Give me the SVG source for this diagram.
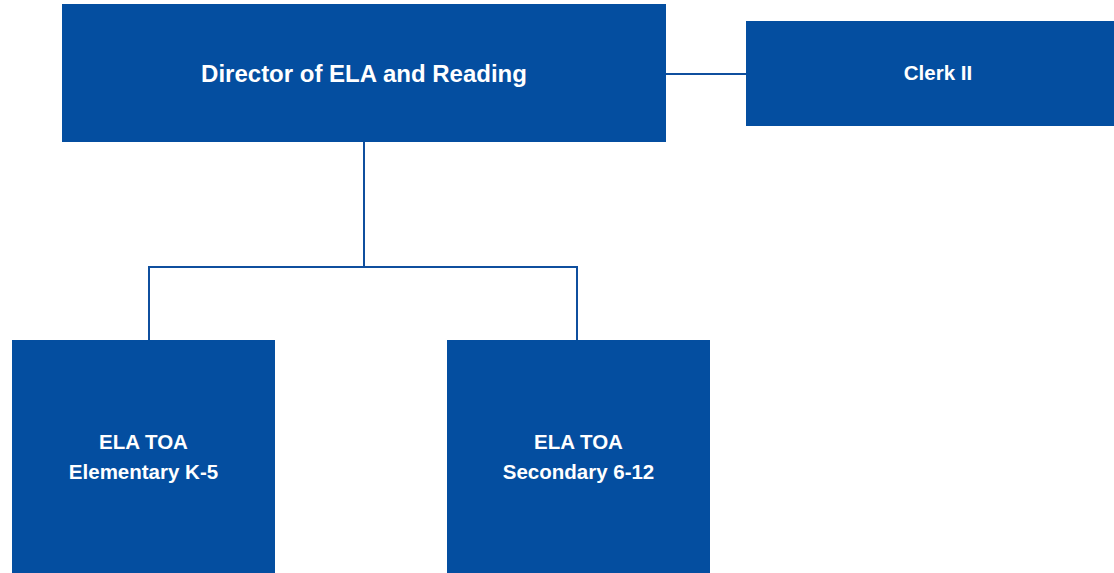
<svg xmlns="http://www.w3.org/2000/svg" width="1114" height="573" viewBox="0 0 1114 573">
<style>
.box{fill:#044EA0}
.t{fill:#fff;font-family:"Liberation Sans",Arial,sans-serif;font-weight:bold;text-anchor:middle}
.c{fill:none;stroke:#0F4F9E;stroke-width:2}
</style>
<rect width="1114" height="573" fill="#fff"/>
<g id="connectors">
<line class="c" x1="666" y1="74" x2="746" y2="74"/>
<polyline class="c" points="364,142 364,267"/>
<polyline class="c" points="149,340 149,267 577,267 577,340"/>
</g>
<g id="director">
<rect class="box" x="62" y="4" width="604" height="138"/>
<text class="t" x="364" y="82" font-size="24">Director of ELA and Reading</text>
</g>
<g id="clerk">
<rect class="box" x="746" y="21" width="368" height="105"/>
<text class="t" x="938" y="80" font-size="20.5">Clerk II</text>
</g>
<g id="elementary">
<rect class="box" x="12" y="340" width="263" height="233"/>
<text class="t" x="143.5" y="449" font-size="20.5">ELA TOA</text>
<text class="t" x="143.5" y="479" font-size="20.5">Elementary K-5</text>
</g>
<g id="secondary">
<rect class="box" x="447" y="340" width="263" height="233"/>
<text class="t" x="578.5" y="449" font-size="20.5">ELA TOA</text>
<text class="t" x="578.5" y="479" font-size="20.5">Secondary 6-12</text>
</g>
</svg>
